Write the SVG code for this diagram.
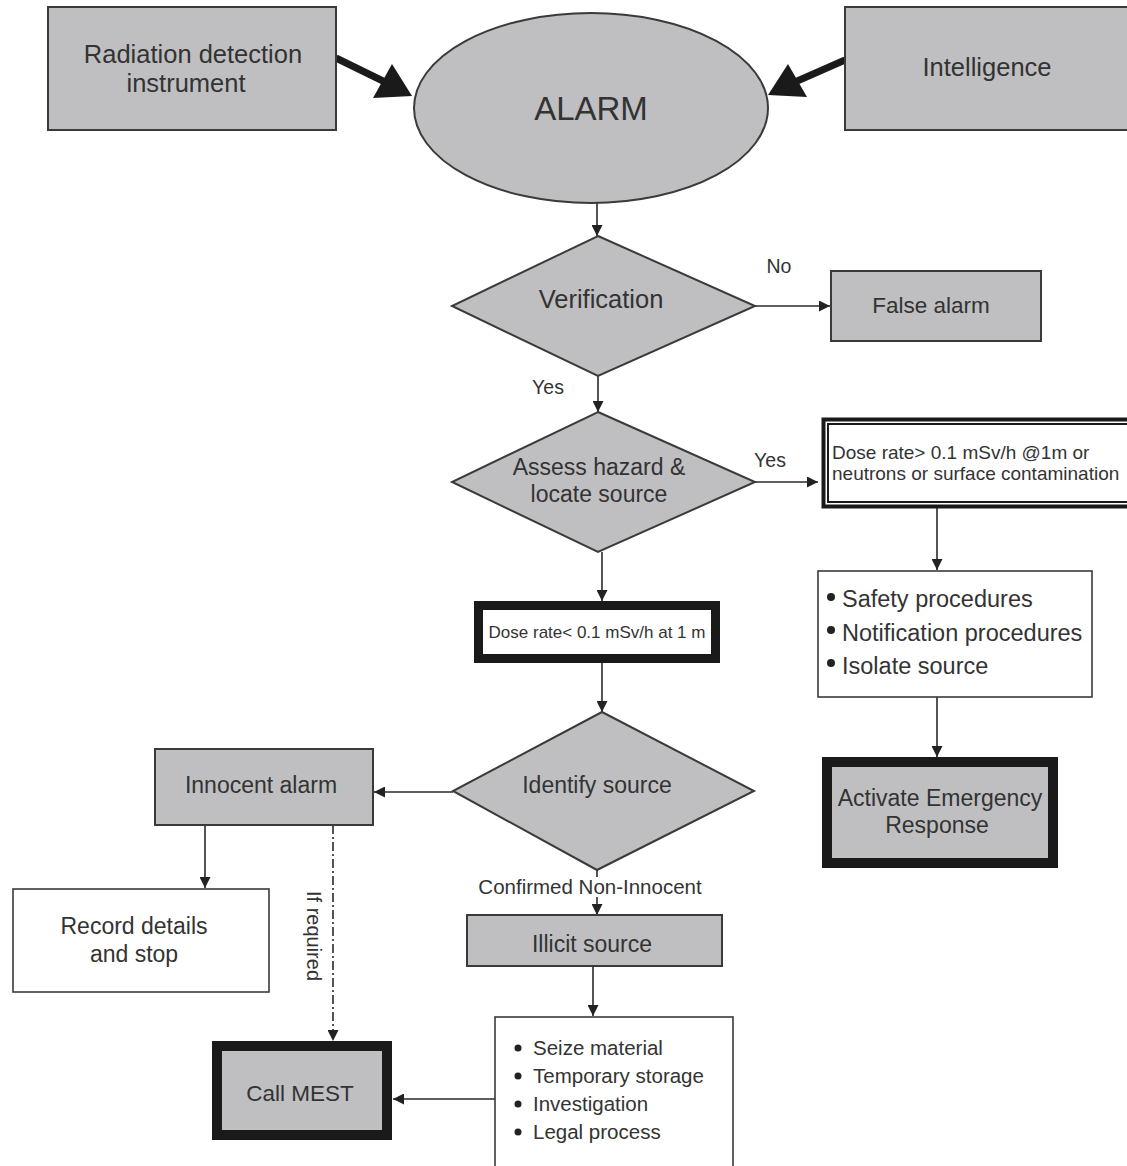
<svg xmlns="http://www.w3.org/2000/svg" width="1127" height="1166" viewBox="0 0 1127 1166">
<defs>
<marker id="ah" viewBox="0 0 10 10" refX="10" refY="5" markerWidth="12" markerHeight="11" markerUnits="userSpaceOnUse" orient="auto">
<path d="M0,0 L10,5 L0,10 Z" fill="#222"/>
</marker>
<style>
text{font-family:"Liberation Sans",Arial,sans-serif;fill:#333;}
.g{fill:#bfbfc1;stroke:#3a3a3a;stroke-width:2;}
.w{fill:#fff;stroke:#3a3a3a;stroke-width:1.6;}
.thick{fill:#bfbfc1;stroke:#1a1a1a;stroke-width:10;}
.c{text-anchor:middle;}
.ln{stroke:#2a2a2a;stroke-width:1.6;fill:none;}
.big{font-size:25.5px;}
.md{font-size:23px;}
</style>
</defs>
<rect width="1127" height="1166" fill="#fff"/>

<g id="connectors">
<line x1="336" y1="58" x2="385" y2="82" stroke="#1a1a1a" stroke-width="7"/>
<polygon points="412,96 373,98 392,64" fill="#1a1a1a"/>
<line x1="845" y1="60" x2="795" y2="82" stroke="#1a1a1a" stroke-width="7"/>
<polygon points="768,95 788,64 807,97" fill="#1a1a1a"/>
<line class="ln" x1="597" y1="203" x2="597" y2="236" marker-end="url(#ah)"/>
<line class="ln" x1="755" y1="306" x2="830" y2="306" marker-end="url(#ah)"/>
<line class="ln" x1="598" y1="376" x2="598" y2="412" marker-end="url(#ah)"/>
<line class="ln" x1="755" y1="482" x2="818" y2="482" marker-end="url(#ah)"/>
<line class="ln" x1="937" y1="508" x2="937" y2="570" marker-end="url(#ah)"/>
<line class="ln" x1="937" y1="697" x2="937" y2="757" marker-end="url(#ah)"/>
<line class="ln" x1="602" y1="552" x2="602" y2="601" marker-end="url(#ah)"/>
<line class="ln" x1="602" y1="663" x2="602" y2="712" marker-end="url(#ah)"/>
<line class="ln" x1="453" y1="792" x2="374" y2="792" marker-end="url(#ah)"/>
<line class="ln" x1="205" y1="825" x2="205" y2="888" marker-end="url(#ah)"/>
<line class="ln" x1="333" y1="825" x2="333" y2="1041" stroke-dasharray="9,3,2,3" marker-end="url(#ah)"/>
<line class="ln" x1="597" y1="870" x2="597" y2="877"/>
<line class="ln" x1="597" y1="897" x2="597" y2="915" marker-end="url(#ah)"/>
<line class="ln" x1="593" y1="966" x2="593" y2="1016" marker-end="url(#ah)"/>
<line class="ln" x1="495" y1="1099" x2="393" y2="1099" marker-end="url(#ah)"/>
<text x="779" y="273" class="c" font-size="19.5">No</text>
<text x="548" y="394" class="c" font-size="19.5">Yes</text>
<text x="770" y="467" class="c" font-size="19.5">Yes</text>
<text x="590" y="894" class="c" font-size="20.5">Confirmed Non-Innocent</text>
<text x="0" y="0" class="c" font-size="20" transform="translate(307,936) rotate(90)">If required</text>
</g>

<g id="radiation">
<rect class="g" x="48" y="7" width="288" height="123"/>
<text x="193" y="63" class="c big">Radiation detection</text>
<text x="186" y="92" class="c big">instrument</text>
</g>

<g id="intelligence">
<rect class="g" x="845" y="7" width="290" height="123"/>
<text x="987" y="76" class="c big">Intelligence</text>
</g>

<g id="alarm">
<ellipse class="g" cx="591" cy="108" rx="177" ry="95"/>
<text x="591" y="120" class="c" font-size="33">ALARM</text>
</g>

<g id="verification">
<polygon class="g" points="598,236 755,306 598,376 452,306"/>
<text x="601" y="308" class="c big">Verification</text>
</g>

<g id="false-alarm">
<rect class="g" x="831" y="271" width="210" height="70"/>
<text x="931" y="313" class="c" font-size="22.5">False alarm</text>
</g>

<g id="assess">
<polygon class="g" points="598,412 755,482 598,552 452,482"/>
<text x="599" y="475" class="c md">Assess hazard &amp;</text>
<text x="599" y="502" class="c md">locate source</text>
</g>

<g id="dose-high">
<rect x="823.5" y="419.5" width="310" height="87" fill="#fff" stroke="#1a1a1a" stroke-width="4"/>
<rect x="828" y="424" width="305" height="78" fill="none" stroke="#1a1a1a" stroke-width="2"/>
<text x="832" y="459" font-size="19">Dose rate&gt; 0.1 mSv/h @1m or</text>
<text x="832" y="480" font-size="19">neutrons or surface contamination</text>
</g>

<g id="procedures">
<rect class="w" x="818" y="571" width="274" height="126"/>
<circle cx="831" cy="597" r="4" fill="#222"/>
<circle cx="831" cy="630" r="4" fill="#222"/>
<circle cx="831" cy="663" r="4" fill="#222"/>
<text x="842" y="607" font-size="23.5">Safety procedures</text>
<text x="842" y="641" font-size="23.5">Notification procedures</text>
<text x="842" y="674" font-size="23.5">Isolate source</text>
</g>

<g id="activate">
<rect class="thick" x="827" y="762" width="226" height="101"/>
<text x="940" y="806" class="c md">Activate Emergency</text>
<text x="937" y="833" class="c md">Response</text>
</g>

<g id="dose-low">
<rect x="478.5" y="605.5" width="237" height="53" fill="#fff" stroke="#1a1a1a" stroke-width="9"/>
<text x="597" y="638" class="c" font-size="17">Dose rate&lt; 0.1 mSv/h at 1 m</text>
</g>

<g id="identify">
<polygon class="g" points="602,712 754,791 597,870 453,791"/>
<text x="597" y="793" class="c md">Identify source</text>
</g>

<g id="innocent">
<rect class="g" x="155" y="749" width="218" height="76"/>
<text x="261" y="793" class="c md">Innocent alarm</text>
</g>

<g id="record">
<rect class="w" x="13" y="889" width="256" height="103"/>
<text x="134" y="934" class="c md">Record details</text>
<text x="134" y="962" class="c md">and stop</text>
</g>

<g id="illicit">
<rect class="g" x="467" y="915" width="255" height="51"/>
<text x="592" y="952" class="c md">Illicit source</text>
</g>

<g id="actions">
<rect class="w" x="495" y="1017" width="238" height="160"/>
<circle cx="518" cy="1048" r="3.5" fill="#222"/>
<circle cx="518" cy="1076" r="3.5" fill="#222"/>
<circle cx="518" cy="1104" r="3.5" fill="#222"/>
<circle cx="518" cy="1132" r="3.5" fill="#222"/>
<text x="533" y="1055" font-size="20.5">Seize material</text>
<text x="533" y="1083" font-size="20.5">Temporary storage</text>
<text x="533" y="1111" font-size="20.5">Investigation</text>
<text x="533" y="1139" font-size="20.5">Legal process</text>
</g>

<g id="call-mest">
<rect class="thick" x="217" y="1046" width="170" height="89"/>
<text x="300" y="1101" class="c" font-size="22.5">Call MEST</text>
</g>
</svg>
